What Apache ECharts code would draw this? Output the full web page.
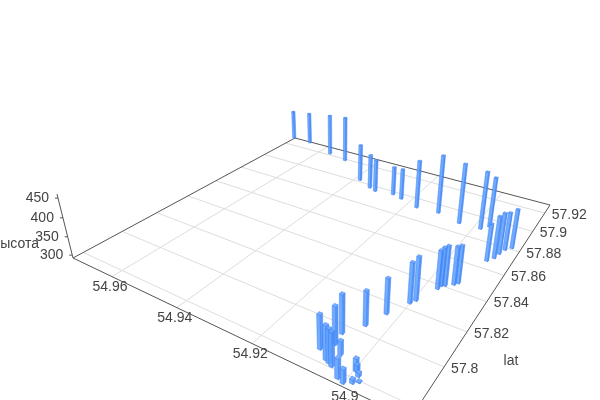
<!DOCTYPE html><html><head><meta charset="utf-8"><style>html,body{margin:0;background:#fff}#c{width:600px;height:400px}</style>
<script src="https://cdn.jsdelivr.net/npm/echarts@6/dist/echarts.min.js"></script></head><body><div id="c"></div>
<script>
const lng=[54.9738,54.9670,54.9563,54.9495,54.9384,54.9335,54.9312,54.9259,54.9228,54.9170,54.9108,54.9040,54.8983,54.8967,54.8919,54.8908,54.8904,54.8898,54.8886,54.8972,54.8970,54.8963,54.8948,54.8942,54.9001,54.8994,54.9026,54.9044,54.9071,54.9066,54.9083,54.9058,54.9049,54.9040,54.9042,54.9015,54.9001,54.8997,54.8995,54.8986,54.8987,54.8978];
const lat=[57.9295,57.9288,57.9219,57.9188,57.9021,57.8973,57.8956,57.8973,57.8955,57.8916,57.8926,57.8889,57.8895,57.8935,57.8663,57.8699,57.8742,57.8786,57.8815,57.8375,57.8401,57.8410,57.8435,57.8453,57.8238,57.8264,57.8136,57.8039,57.7959,57.7901,57.7855,57.7823,57.7816,57.7808,57.7868,57.7775,57.7767,57.7834,57.7835,57.7817,57.7783,57.7797];
const alt=[387,395,422,435,404,395,389,377,383,431,460,462,454,433,393,406,404,395,400,392,392,396,392,391,396,404,382,379,389,385,376,375,374,374,327,340,326,322,307,302,302,294];
const lngTicks=[54.9,54.92,54.94,54.96];
const latTicks=[57.78,57.8,57.82,57.84,57.86,57.88,57.9,57.92];
const altTicks=[300,350,400,450];
const latLabels=['','57.8','57.82','57.84','57.86','57.88','57.9','57.92'];
const lngLabels=['54.9','54.92','54.94','54.96'];
const altName='Высота', latName='lat';

const lng0=54.8865,lng1=54.9735,lat0=57.7751,lat1=57.9295,z0=292,z1=460;
const q=[[410,419],[73,258],[295,138],[550,205]];
function sq2q(q){const [x0,y0]=q[0],[x1,y1]=q[1],[x2,y2]=q[2],[x3,y3]=q[3];
const dx1=x1-x2,dx2=x3-x2,sx=x0-x1+x2-x3,dy1=y1-y2,dy2=y3-y2,sy=y0-y1+y2-y3;
const d=dx1*dy2-dx2*dy1;const g=(sx*dy2-dx2*sy)/d,h=(dx1*sy-sx*dy1)/d;
return [x1-x0+g*x1,x3-x0+h*x3,x0,y1-y0+g*y1,y3-y0+h*y3,y0,g,h,1];}
const H=sq2q(q),lam=-0.0569*(H[6]+H[8]),VP=[338,1317];
const U=v=>(v-lng0)/(lng1-lng0),V=v=>(v-lat0)/(lat1-lat0),W=v=>(v-z0)/(z1-z0);
function P(u,v,w){const h=H[6]*u+H[7]*v+H[8]+w*lam;
 return [(H[0]*u+H[1]*v+H[2]+w*lam*VP[0])/h,(H[3]*u+H[4]*v+H[5]+w*lam*VP[1])/h];}
const depth=r=>H[6]*U(r[0])+H[7]*V(r[1])+H[8];
const bars=lng.map((x,i)=>[x,lat[i],alt[i]]).sort((a,b)=>depth(b)-depth(a));
const hs=0.0045;
const FILL={a:'#62a3ff',b:'#4a8ff8',t:'#6aa8ff',s:'#3a7cf0'};
function face(pts,fill){return {type:'polygon',shape:{points:pts},silent:true,style:{fill,stroke:FILL.s,lineWidth:0.5,opacity:0.9}};}
function renderBar(p,api){
 const u=U(api.value(0)),v=V(api.value(1)),w=W(api.value(2));
 const a=u-hs,b=u+hs,c=v-hs,d=v+hs;
 return {type:'group',children:[
  face([P(a,c,0),P(b,c,0),P(b,c,w),P(a,c,w)],FILL.a),
  face([P(a,c,0),P(a,d,0),P(a,d,w),P(a,c,w)],FILL.b),
  face([P(a,c,w),P(b,c,w),P(b,d,w),P(a,d,w)],FILL.t)]};
}
const line=(a,b,stroke)=>({type:'line',silent:true,shape:{x1:a[0],y1:a[1],x2:b[0],y2:b[1]},style:{stroke,lineWidth:1}});
const text=(t,x,y,align)=>({type:'text',silent:true,x,y,style:{text:t,fill:'#444',font:'14px "Liberation Sans"',align,verticalAlign:'middle'}});
function renderFrame(){
 const ch=[];
 lngTicks.forEach(t=>{ch.push(line(P(U(t),0,0),P(U(t),1,0),'#ddd'));});
 latTicks.forEach(t=>{ch.push(line(P(0,V(t),0),P(1,V(t),0),'#ddd'));});
 [[[0,0],[1,0]],[[1,0],[1,1]],[[1,1],[0,1]],[[0,1],[0,0]]].forEach(e=>ch.push(line(P(e[0][0],e[0][1],0),P(e[1][0],e[1][1],0),'#555')));
 ch.push(line(P(1,0,0),P(1,0,1),'#555'));
 lngTicks.forEach((t,i)=>{const p=P(U(t),0,0);const first=i===0;ch.push(text(lngLabels[i],p[0]+(first?4:-2),p[1]+(first?11:10.5),'center'));});
 latTicks.forEach((t,i)=>{if(latLabels[i]){const p=P(0,V(t),0);ch.push(text(latLabels[i],p[0]+7,p[1]+2,'left'));}});
 altTicks.forEach(t=>{const p=P(1,0,W(t));ch.push(line(p,[p[0]-3,p[1]],'#555'));ch.push(text(String(t),p[0]-9,p[1],'right'));});
 ch.push(text(altName,39,244.5,'right'));
 ch.push(text(latName,511,361,'center'));
 return {type:'group',children:ch};
}
const chart=echarts.init(document.getElementById('c'),null,{renderer:'canvas'});
chart.setOption({animation:false,backgroundColor:'#fff',series:[
 {type:'custom',coordinateSystem:'none',silent:true,clip:false,z:1,data:[[0]],renderItem:renderFrame},
 {type:'custom',coordinateSystem:'none',silent:true,clip:false,z:2,data:bars,dimensions:['lng','lat','alt'],renderItem:renderBar}
]});
</script></body></html>
